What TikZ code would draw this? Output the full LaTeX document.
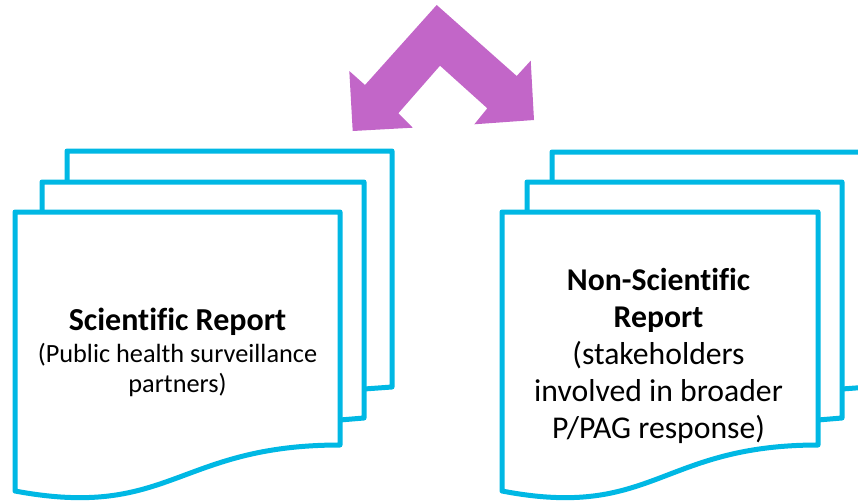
\documentclass[tikz,border=0pt]{standalone}
\usepackage{fontspec}
\setmainfont[Ligatures=NoCommon]{Carlito}
\definecolor{docblue}{RGB}{0,184,228}
\definecolor{arrowpurple}{RGB}{194,102,200}
\begin{document}
\begin{tikzpicture}[x=1pt,y=-1pt,
  sheet/.style={draw=docblue, line width=5pt, fill=white, line join=round},
  lefttext/.style={anchor=base, align=center, inner sep=0pt, font=\fontsize{26.3}{30}\selectfont},
  righttext/.style={anchor=base, align=center, inner sep=0pt, font=\fontsize{31.7}{37}\selectfont}]
\useasboundingbox (0,0) rectangle (858,503);
\clip (0,0) rectangle (858,503);
% purple double arrow
\fill[arrowpurple] (436.7,5) -- (365,85) -- (349.3,71) -- (352.7,131) -- (412.7,127.7)
  -- (398.3,113.3) -- (440,65.7) -- (487.3,108.3) -- (474.3,124.3) -- (534,120)
  -- (530.7,60.7) -- (516.7,76) -- cycle;
% left multidocument
\path[sheet] (67,151) -- (392,151) -- (392,387) -- (364,389) -- (67,389) -- cycle;
\path[sheet] (42,182) -- (364,182) -- (364,418) -- (340,420) -- (42,420) -- cycle;
\path[sheet] (15,212) -- (340,212) -- (340,445) .. controls (177,445) and (170,520) .. (15,491) -- cycle;
% right multidocument
\path[sheet] (552,152) -- (869,152) -- (869,387) -- (842,389) -- (552,389) -- cycle;
\path[sheet] (527,182) -- (842,182) -- (842,418) -- (818,420) -- (527,420) -- cycle;
\path[sheet] (502,212) -- (818,212) -- (818,445) .. controls (660,445) and (653,520) .. (502,491) -- cycle;
% texts
\node[lefttext] (sci) at (177.5,392) {{\fontsize{32}{32}\selectfont\bfseries Scientific Report}\\[2pt](Public health surveillance\\partners)};
\node[righttext] (nonsci) at (658.5,438) {\textbf{Non-Scientific}\\\textbf{Report}\\(stakeholders\\involved in broader\\P/PAG response)};
\end{tikzpicture}
\end{document}
